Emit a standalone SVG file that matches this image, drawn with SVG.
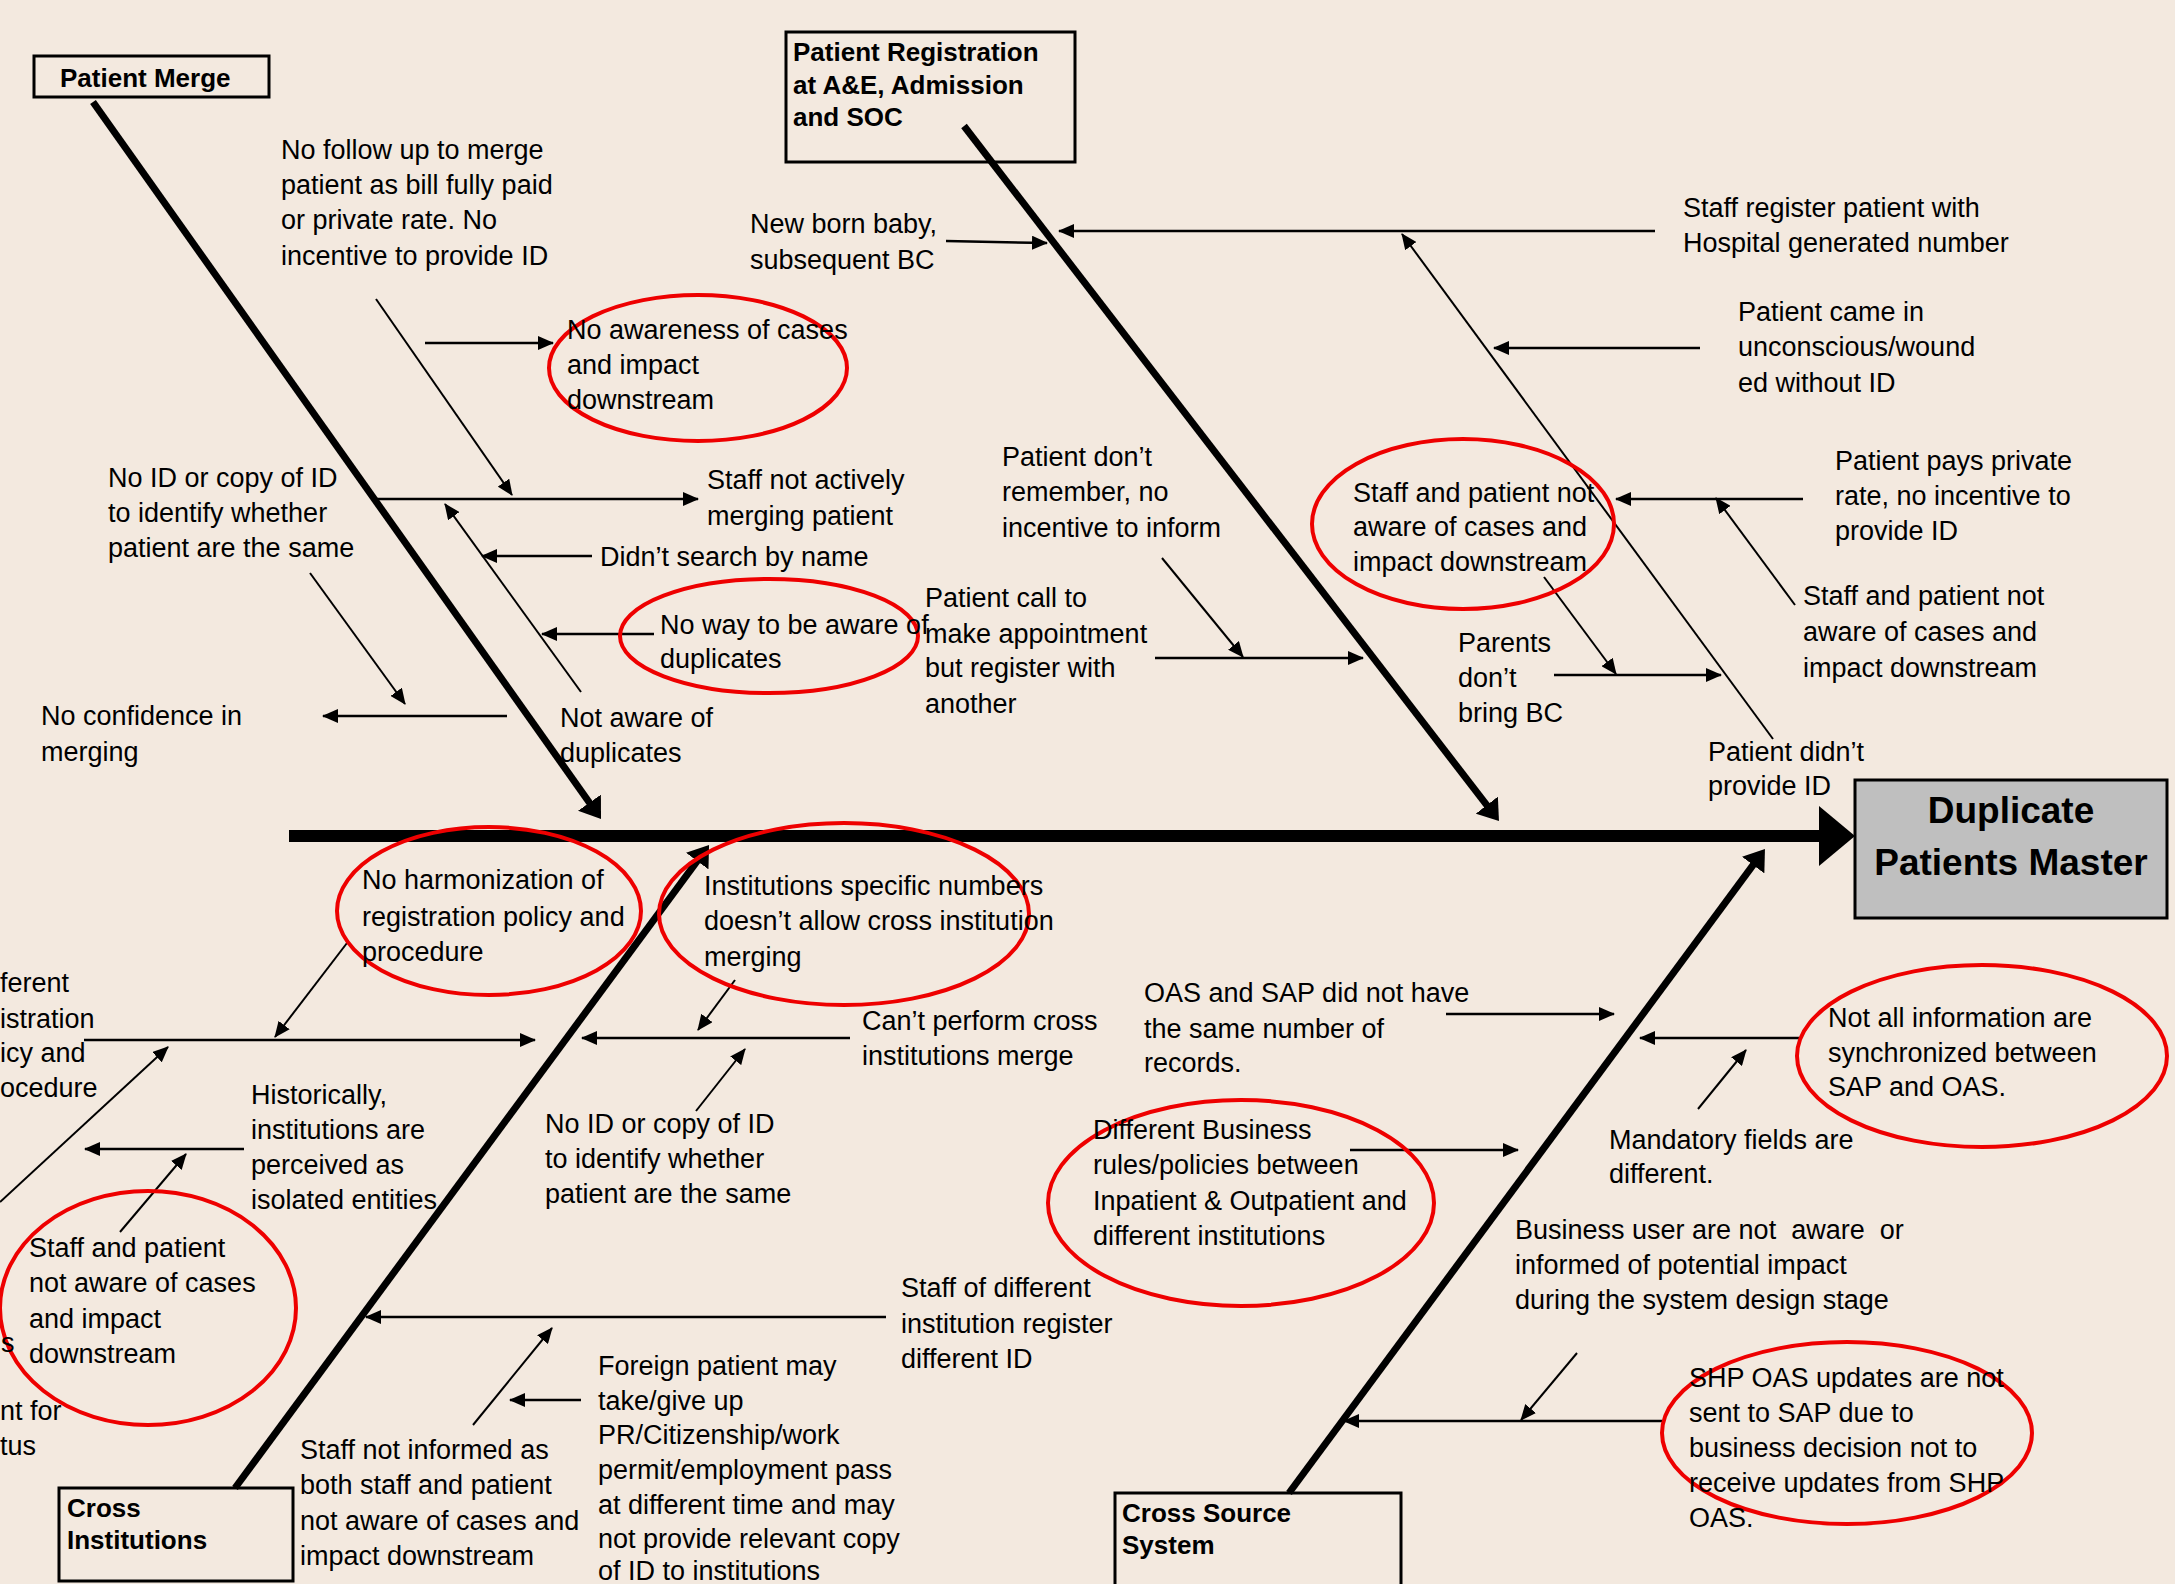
<svg xmlns="http://www.w3.org/2000/svg" width="2175" height="1584" viewBox="0 0 2175 1584">
<defs>
<style>
.t{font-family:'Liberation Sans',Arial,sans-serif;font-size:27px;fill:#000;white-space:pre}
.c{font-family:'Comic Sans MS','Liberation Sans',Arial,sans-serif;font-size:26px;font-weight:bold;fill:#000}
.e{font-family:'Liberation Sans',Arial,sans-serif;font-size:37px;font-weight:bold;fill:#000;text-anchor:middle}
.box{fill:none;stroke:#000;stroke-width:3}
.ring{fill:none;stroke:#ee0000;stroke-width:4}
.ah{stroke:#000;stroke-width:2.5;fill:none;marker-end:url(#ar)}
.ad{stroke:#000;stroke-width:2;fill:none;marker-end:url(#ar)}
.bone{stroke:#000;stroke-width:7;fill:none;marker-end:url(#big)}
</style>
<marker id="ar" markerUnits="userSpaceOnUse" markerWidth="16" markerHeight="14" refX="15" refY="7" orient="auto"><path d="M0,0 L16,7 L0,14 z" fill="#000"/></marker>
<marker id="big" markerUnits="userSpaceOnUse" markerWidth="20" markerHeight="28" refX="12" refY="14" orient="auto"><path d="M0,0 L20,14 L0,28 z" fill="#000"/></marker>
</defs>
<rect width="2175" height="1584" fill="#F3E9DF"/>

<g id="connectors">
<line x1="289" y1="836" x2="1821" y2="836" stroke="#000" stroke-width="12"/>
<polygon points="1819,806 1855,836 1819,866" fill="#000"/>
<line class="bone" x1="93" y1="102" x2="596.4" y2="812.5"/>
<line class="bone" x1="964" y1="126" x2="1494.1" y2="814.7"/>
<line class="bone" x1="235" y1="1488" x2="704.3" y2="851.4"/>
<line class="bone" x1="1289" y1="1493" x2="1760.2" y2="855.4"/>
<line class="ad" x1="376" y1="299" x2="512" y2="495"/>
<line class="ah" x1="425" y1="343" x2="553" y2="343"/>
<line class="ah" x1="376" y1="499" x2="698" y2="499"/>
<line class="ad" x1="581" y1="692" x2="445" y2="504"/>
<line class="ah" x1="592" y1="556" x2="482" y2="556"/>
<line class="ah" x1="654" y1="634" x2="542" y2="634"/>
<line class="ah" x1="507" y1="716" x2="323" y2="716"/>
<line class="ad" x1="310" y1="573" x2="405" y2="704"/>
<line class="ah" x1="946" y1="241" x2="1047" y2="243"/>
<line class="ah" x1="1655" y1="231" x2="1059" y2="231"/>
<line class="ad" x1="1773" y1="739" x2="1402" y2="234"/>
<line class="ah" x1="1700" y1="348" x2="1494" y2="348"/>
<line class="ah" x1="1803" y1="499" x2="1616" y2="499"/>
<line class="ad" x1="1795" y1="605" x2="1716" y2="498"/>
<line class="ad" x1="1162" y1="558" x2="1243" y2="657"/>
<line class="ah" x1="1155" y1="658" x2="1363" y2="658"/>
<line class="ah" x1="1554" y1="675" x2="1721" y2="675"/>
<line class="ad" x1="1544" y1="577" x2="1616" y2="674"/>
<line class="ad" x1="347" y1="943" x2="275" y2="1037"/>
<line class="ah" x1="84" y1="1040" x2="535" y2="1040"/>
<line class="ad" x1="0" y1="1202" x2="168" y2="1047"/>
<line class="ah" x1="244" y1="1149" x2="85" y2="1149"/>
<line class="ad" x1="120" y1="1232" x2="186" y2="1154"/>
<line class="ad" x1="735" y1="980" x2="698" y2="1030"/>
<line class="ah" x1="850" y1="1038" x2="582" y2="1038"/>
<line class="ad" x1="696" y1="1111" x2="745" y2="1049"/>
<line class="ah" x1="886" y1="1317" x2="366" y2="1317"/>
<line class="ad" x1="473" y1="1425" x2="552" y2="1328"/>
<line class="ah" x1="581" y1="1400" x2="510" y2="1400"/>
<line class="ah" x1="1446" y1="1014" x2="1614" y2="1014"/>
<line class="ah" x1="1799" y1="1038" x2="1640" y2="1038"/>
<line class="ad" x1="1698" y1="1109" x2="1746" y2="1050"/>
<line class="ah" x1="1350" y1="1150" x2="1518" y2="1150"/>
<line class="ad" x1="1577" y1="1353" x2="1521" y2="1420"/>
<line class="ah" x1="1662" y1="1421" x2="1344" y2="1421"/>
</g>

<g id="patient-merge"><rect class="box" x="34" y="56" width="235" height="41"/><text class="c" x="60" y="87">Patient Merge</text></g>
<g id="patient-registration"><rect class="box" x="786" y="32" width="289" height="130"/><text class="c"><tspan x="793" y="61">Patient Registration</tspan><tspan x="793" y="94">at A&amp;E, Admission</tspan><tspan x="793" y="126">and SOC</tspan></text></g>
<g id="cross-institutions"><rect class="box" x="59" y="1488" width="234" height="93"/><text class="c"><tspan x="67" y="1517">Cross</tspan><tspan x="67" y="1549">Institutions</tspan></text></g>
<g id="cross-source-system"><rect class="box" x="1115" y="1493" width="286" height="100"/><text class="c"><tspan x="1122" y="1522">Cross Source</tspan><tspan x="1122" y="1554">System</tspan></text></g>
<g id="duplicate-patients-master"><rect x="1855" y="780" width="312" height="138" fill="#BFBFBF" stroke="#000" stroke-width="3"/><text class="e"><tspan x="2011" y="823">Duplicate</tspan><tspan x="2011" y="875">Patients Master</tspan></text></g>

<g id="no-follow-up"><text class="t"><tspan x="281" y="159">No follow up to merge</tspan><tspan x="281" y="194">patient as bill fully paid</tspan><tspan x="281" y="229">or private rate. No</tspan><tspan x="281" y="265">incentive to provide ID</tspan></text></g>
<g id="no-awareness"><ellipse class="ring" cx="698" cy="368" rx="149" ry="73"/><text class="t"><tspan x="567" y="339">No awareness of cases</tspan><tspan x="567" y="374">and impact</tspan><tspan x="567" y="409">downstream</tspan></text></g>
<g id="no-id-top"><text class="t"><tspan x="108" y="487">No ID or copy of ID</tspan><tspan x="108" y="522">to identify whether</tspan><tspan x="108" y="557">patient are the same</tspan></text></g>
<g id="staff-not-merging"><text class="t"><tspan x="707" y="489">Staff not actively</tspan><tspan x="707" y="525">merging patient</tspan></text></g>
<g id="didnt-search"><text class="t" x="600" y="566">Didn’t search by name</text></g>
<g id="no-way-aware"><ellipse class="ring" cx="769" cy="636" rx="149" ry="57"/><text class="t"><tspan x="660" y="634">No way to be aware of</tspan><tspan x="660" y="668">duplicates</tspan></text></g>
<g id="no-confidence"><text class="t"><tspan x="41" y="725">No confidence in</tspan><tspan x="41" y="761">merging</tspan></text></g>
<g id="not-aware-duplicates"><text class="t"><tspan x="560" y="727">Not aware of</tspan><tspan x="560" y="762">duplicates</tspan></text></g>

<g id="new-born"><text class="t"><tspan x="750" y="233">New born baby,</tspan><tspan x="750" y="269">subsequent BC</tspan></text></g>
<g id="staff-register"><text class="t"><tspan x="1683" y="217">Staff register patient with</tspan><tspan x="1683" y="252">Hospital generated number</tspan></text></g>
<g id="came-unconscious"><text class="t"><tspan x="1738" y="321">Patient came in</tspan><tspan x="1738" y="356">unconscious/wound</tspan><tspan x="1738" y="392">ed without ID</tspan></text></g>
<g id="staff-patient-ring"><ellipse class="ring" cx="1463" cy="524" rx="151" ry="85"/><text class="t"><tspan x="1353" y="502">Staff and patient not</tspan><tspan x="1353" y="536">aware of cases and</tspan><tspan x="1353" y="571">impact downstream</tspan></text></g>
<g id="pays-private"><text class="t"><tspan x="1835" y="470">Patient pays private</tspan><tspan x="1835" y="505">rate, no incentive to</tspan><tspan x="1835" y="540">provide ID</tspan></text></g>
<g id="staff-patient-right"><text class="t"><tspan x="1803" y="605">Staff and patient not</tspan><tspan x="1803" y="641">aware of cases and</tspan><tspan x="1803" y="677">impact downstream</tspan></text></g>
<g id="dont-remember"><text class="t"><tspan x="1002" y="466">Patient don’t</tspan><tspan x="1002" y="501">remember, no</tspan><tspan x="1002" y="537">incentive to inform</tspan></text></g>
<g id="call-appointment"><text class="t"><tspan x="925" y="607">Patient call to</tspan><tspan x="925" y="643">make appointment</tspan><tspan x="925" y="677">but register with</tspan><tspan x="925" y="713">another</tspan></text></g>
<g id="parents-bc"><text class="t"><tspan x="1458" y="652">Parents</tspan><tspan x="1458" y="687">don’t</tspan><tspan x="1458" y="722">bring BC</tspan></text></g>
<g id="didnt-provide"><text class="t"><tspan x="1708" y="761">Patient didn’t</tspan><tspan x="1708" y="795">provide ID</tspan></text></g>

<g id="no-harmonization"><ellipse class="ring" cx="489" cy="911" rx="152" ry="84"/><text class="t"><tspan x="362" y="889">No harmonization of</tspan><tspan x="362" y="926">registration policy and</tspan><tspan x="362" y="961">procedure</tspan></text></g>
<g id="different-registration-cut"><text class="t"><tspan x="0" y="992">ferent</tspan><tspan x="0" y="1028">istration</tspan><tspan x="0" y="1062">icy and</tspan><tspan x="0" y="1097">ocedure</tspan></text></g>
<g id="historically"><text class="t"><tspan x="251" y="1104">Historically,</tspan><tspan x="251" y="1139">institutions are</tspan><tspan x="251" y="1174">perceived as</tspan><tspan x="251" y="1209">isolated entities</tspan></text></g>
<g id="staff-patient-left"><ellipse class="ring" cx="148" cy="1308" rx="148" ry="117"/><text class="t"><tspan x="29" y="1257">Staff and patient</tspan><tspan x="29" y="1292">not aware of cases</tspan><tspan x="29" y="1328">and impact</tspan><tspan x="29" y="1363">downstream</tspan></text></g>
<g id="left-cut-2"><text class="t"><tspan x="1" y="1352">s</tspan><tspan x="0" y="1420">nt for</tspan><tspan x="0" y="1455">tus</tspan></text></g>
<g id="institution-numbers"><ellipse class="ring" cx="844" cy="914" rx="185" ry="91"/><text class="t"><tspan x="704" y="895">Institutions specific numbers</tspan><tspan x="704" y="930">doesn’t allow cross institution</tspan><tspan x="704" y="966">merging</tspan></text></g>
<g id="cant-perform"><text class="t"><tspan x="862" y="1030">Can’t perform cross</tspan><tspan x="862" y="1065">institutions merge</tspan></text></g>
<g id="no-id-bottom"><text class="t"><tspan x="545" y="1133">No ID or copy of ID</tspan><tspan x="545" y="1168">to identify whether</tspan><tspan x="545" y="1203">patient are the same</tspan></text></g>
<g id="staff-different"><text class="t"><tspan x="901" y="1297">Staff of different</tspan><tspan x="901" y="1333">institution register</tspan><tspan x="901" y="1368">different ID</tspan></text></g>
<g id="staff-not-informed"><text class="t"><tspan x="300" y="1459">Staff not informed as</tspan><tspan x="300" y="1494">both staff and patient</tspan><tspan x="300" y="1530">not aware of cases and</tspan><tspan x="300" y="1565">impact downstream</tspan></text></g>
<g id="foreign-patient"><text class="t"><tspan x="598" y="1375">Foreign patient may</tspan><tspan x="598" y="1410">take/give up</tspan><tspan x="598" y="1444">PR/Citizenship/work</tspan><tspan x="598" y="1479">permit/employment pass</tspan><tspan x="598" y="1514">at different time and may</tspan><tspan x="598" y="1548">not provide relevant copy</tspan><tspan x="598" y="1580">of ID to institutions</tspan></text></g>

<g id="oas-sap-records"><text class="t"><tspan x="1144" y="1002">OAS and SAP did not have</tspan><tspan x="1144" y="1038">the same number of</tspan><tspan x="1144" y="1072">records.</tspan></text></g>
<g id="not-synchronized"><ellipse class="ring" cx="1982" cy="1056" rx="185" ry="91"/><text class="t"><tspan x="1828" y="1027">Not all information are</tspan><tspan x="1828" y="1062">synchronized between</tspan><tspan x="1828" y="1096">SAP and OAS.</tspan></text></g>
<g id="mandatory-fields"><text class="t"><tspan x="1609" y="1149">Mandatory fields are</tspan><tspan x="1609" y="1183">different.</tspan></text></g>
<g id="business-rules"><ellipse class="ring" cx="1241" cy="1203" rx="193" ry="103"/><text class="t"><tspan x="1093" y="1139">Different Business</tspan><tspan x="1093" y="1174">rules/policies between</tspan><tspan x="1093" y="1210">Inpatient &amp; Outpatient and</tspan><tspan x="1093" y="1245">different institutions</tspan></text></g>
<g id="business-user"><text class="t"><tspan x="1515" y="1239">Business user are not  aware  or</tspan><tspan x="1515" y="1274">informed of potential impact</tspan><tspan x="1515" y="1309">during the system design stage</tspan></text></g>
<g id="shp-oas"><ellipse class="ring" cx="1847" cy="1433" rx="185" ry="91"/><text class="t"><tspan x="1689" y="1387">SHP OAS updates are not</tspan><tspan x="1689" y="1422">sent to SAP due to</tspan><tspan x="1689" y="1457">business decision not to</tspan><tspan x="1689" y="1492">receive updates from SHP</tspan><tspan x="1689" y="1527">OAS.</tspan></text></g>
</svg>
